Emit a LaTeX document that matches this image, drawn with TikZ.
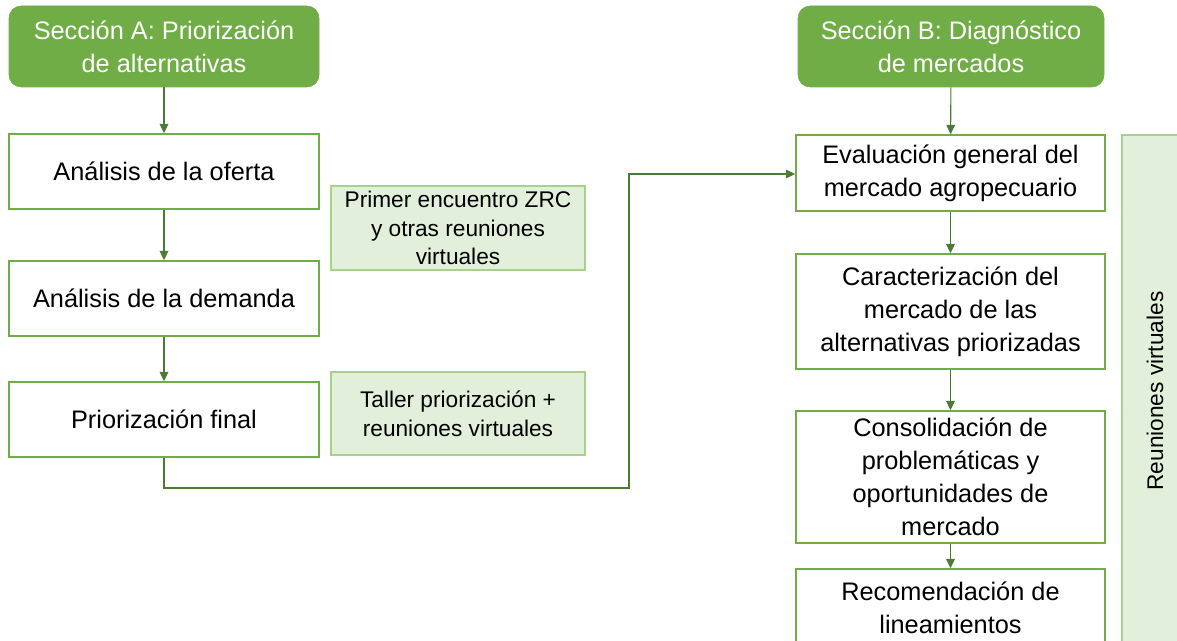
\documentclass[tikz,border=0pt]{standalone}
\usepackage{fontspec}
\setmainfont{Liberation Sans}
\usetikzlibrary{arrows.meta}
\definecolor{hdr}{HTML}{70AD47}
\definecolor{bdr}{HTML}{70AD47}
\definecolor{lite}{HTML}{E2EFDA}
\definecolor{litebdr}{HTML}{A9D18E}
\definecolor{arr}{HTML}{4E7A38}
\tikzset{
  header/.style={fill=hdr, draw=hdr, rounded corners=9pt, text=white,
    font=\fontsize{19}{24.75}\selectfont, align=center, inner sep=0pt},
  stepbox/.style={draw=bdr, line width=1.1pt, fill=white,
    font=\fontsize{19}{24.75}\selectfont, align=center, inner sep=0pt},
  notebox/.style={draw=litebdr, line width=1.1pt, fill=lite,
    font=\fontsize{17}{21.4}\selectfont, align=center, inner sep=0pt},
  conn/.style={draw=arr, line width=0.8pt, -{Triangle[length=7pt,width=6.5pt]}}
}
\begin{document}
\begin{tikzpicture}[x=0.75pt,y=-0.75pt]
\useasboundingbox (0,0) rectangle (1177,641);
% left column
\node[header, minimum width=232.5pt, minimum height=60.75pt] (hA) at (164,46.5) {Sección A: Priorización\\de alternativas};
\node[stepbox, minimum width=232.5pt, minimum height=56.25pt] (oferta) at (164,171.5) {Análisis de la oferta};
\node[stepbox, minimum width=232.5pt, minimum height=56.25pt] (demanda) at (164,298.5) {Análisis de la demanda};
\node[stepbox, minimum width=232.5pt, minimum height=56.25pt] (prior) at (164,419.5) {Priorización final};
\node[notebox, minimum width=190.5pt, minimum height=63pt] (primer) at (458,228) {Primer encuentro ZRC\\y otras reuniones\\virtuales};
\node[notebox, minimum width=190.5pt, minimum height=62.25pt] (taller) at (458,413.5) {Taller priorización +\\reuniones virtuales};
% right column
\node[header, minimum width=229.5pt, minimum height=60.75pt] (hB) at (951,46.5) {Sección B: Diagnóstico\\de mercados};
\node[stepbox, minimum width=231.75pt, minimum height=57pt] (eval) at (950.5,173) {Evaluación general del\\mercado agropecuario};
\node[stepbox, minimum width=231.75pt, minimum height=86.25pt] (caract) at (950.5,311.5) {Caracterización del\\mercado de las\\alternativas priorizadas};
\node[stepbox, minimum width=231.75pt, minimum height=99pt] (consol) at (950.5,477) {Consolidación de\\problemáticas y\\oportunidades de\\mercado};
\node[stepbox, minimum width=231.75pt, minimum height=57.75pt] (recom) at (950.5,607.5) {Recomendación de\\lineamientos};
% side bar
\node[draw=litebdr, line width=1.1pt, fill=lite, minimum width=58.5pt, minimum height=423.75pt, inner sep=0pt] (bar) at (1161,417.5) {};
\node[rotate=90, font=\fontsize{17}{21.4}\selectfont, inner sep=0pt] (barlabel) at (1155,391) {Reuniones virtuales};
% connectors
\draw[conn] (hA) -- (oferta);
\draw[conn] (oferta) -- (demanda);
\draw[conn] (demanda) -- (prior);
\draw[conn] (hB) -- (eval);
\draw[conn] (eval) -- (caract);
\draw[conn] (caract) -- (consol);
\draw[conn] (consol) -- (recom);
\coordinate (c1) at (164,488);
\coordinate (c2) at (629,488);
\coordinate (c3) at (629,174);
\draw[conn] (prior.south) -- (c1) -- (c2) -- (c3) -- (eval.west |- c3);
\end{tikzpicture}
\end{document}
